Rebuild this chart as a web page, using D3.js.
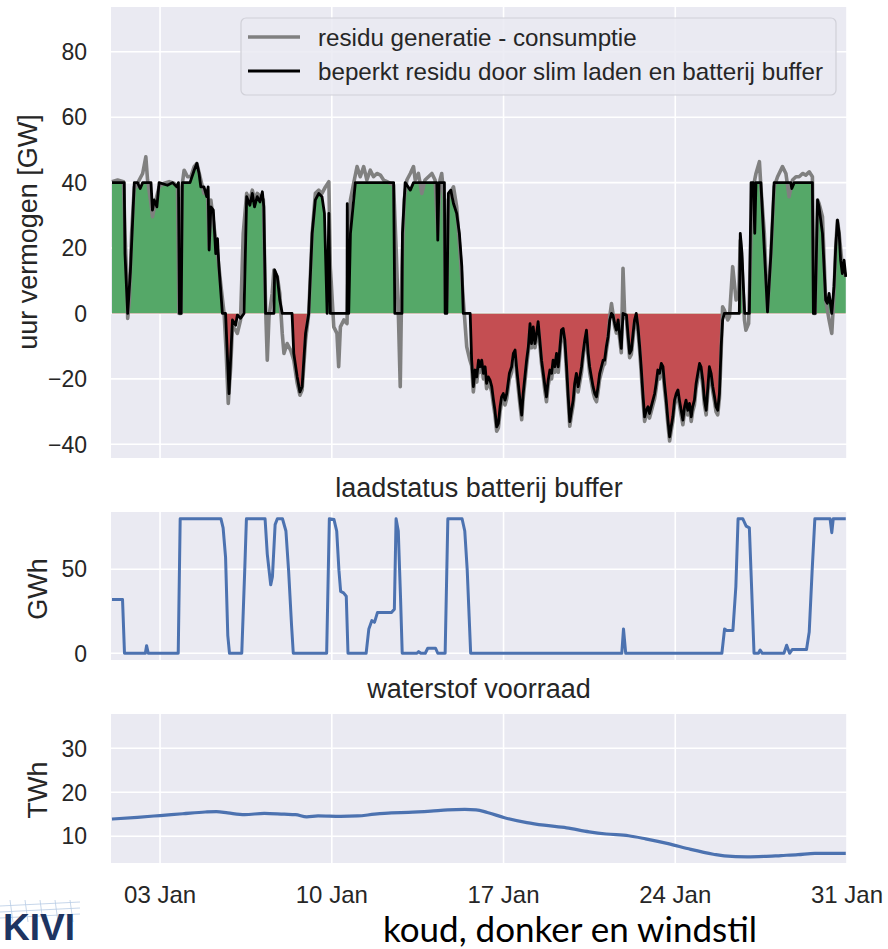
<!DOCTYPE html>
<html lang="nl">
<head>
    <meta charset="UTF-8">
    <title>Residu, batterij buffer en waterstof voorraad</title>
    <script src="https://d3js.org/d3.v7.min.js"></script>
    <style>
        body {
            margin: 0;
            background: #ffffff;
        }

        svg {
            font-family: "Liberation Sans", Arial, sans-serif;
        }

        .panel-bg {
            fill: #eaeaf2;
        }

        .grid line {
            stroke: #ffffff;
            stroke-width: 1.6px;
        }

        .tick-label {
            fill: #262626;
            font-size: 23px;
        }

        .axis-label {
            fill: #262626;
            font-size: 27px;
        }

        .panel-title {
            fill: #262626;
            font-size: 27px;
        }

        .legend-text {
            fill: #262626;
            font-size: 24.2px;
        }

        .line {
            fill: none;
            stroke-linejoin: round;
        }
    </style>
</head>
<body>
    <svg id="chart" width="888" height="949"></svg>

    <script>
        // ---- data (day of January as decimal, value) ----
        // residu generatie - consumptie [GW]
        const residu = [
            [1.04,40.3],[1.27,40.8],[1.51,40.3],[1.57,24.5],[1.65,9.2],[1.68,-1.5],[1.75,4.1],[1.84,24.5],[1.95,38.7],
            [2.02,38.7],[2.15,40.8],[2.29,42.8],[2.42,47.9],[2.49,40.8],[2.63,33.6],[2.69,29.6],[2.83,34.7],[2.96,38.7],
            [3.17,39.8],[3.37,40.3],[3.57,39.8],[3.71,38.7],[3.77,0],[3.85,0],[3.89,38.7],[3.98,43.8],[4.12,41.8],
            [4.25,41.8],[4.39,44.9],[4.50,45.9],[4.66,40.8],[4.79,36.7],[4.93,37.7],[5.00,20.4],[5.07,34.7],[5.20,26.5],
            [5.34,18.3],[5.47,9.2],[5.61,0],[5.69,-11.2],[5.78,-27.5],[5.88,-16.3],[5.95,-4.1],[6.08,-5.1],[6.15,-6.1],
            [6.28,-2],[6.39,24.5],[6.53,36.7],[6.66,34.7],[6.76,37.7],[6.85,34.7],[6.96,36.7],[7.10,35.7],[7.21,34.7],
            [7.28,9.2],[7.31,0],[7.37,-14.3],[7.44,-1],[7.57,6.1],[7.64,13.3],[7.78,11.2],[7.88,6.1],[7.98,-6.1],
            [8.05,-12.2],[8.18,-9.2],[8.32,-11.2],[8.45,-14.3],[8.59,-21.4],[8.70,-25],[8.79,-23.4],[8.93,-8.2],[9.06,0],
            [9.20,24.5],[9.33,36.7],[9.47,37.7],[9.60,36.7],[9.74,38.7],[9.88,40.3],[9.94,14.3],[10.08,-4.1],[10.21,-6.1],
            [10.28,-16.3],[10.35,-4.1],[10.49,-2],[10.62,-3.1],[10.69,24.5],[10.76,34.7],[10.89,39.8],[11.03,44.9],
            [11.16,41.8],[11.30,44.9],[11.43,40.8],[11.57,43.8],[11.70,41.8],[11.84,42.8],[11.98,42.3],[12.11,40.8],
            [12.25,40.3],[12.38,39.8],[12.52,39.2],[12.63,18.3],[12.72,-2],[12.79,-22.4],[12.86,14.3],[12.95,34.7],
            [13.06,40.8],[13.20,42.8],[13.33,44.9],[13.40,40.8],[13.53,42.8],[13.67,36.7],[13.80,40.8],[13.94,41.8],
            [14.08,42.8],[14.21,40.8],[14.32,24.5],[14.41,40.8],[14.48,42.8],[14.58,34.7],[14.63,4.1],[14.69,4.1],
            [14.75,34.7],[14.82,36.7],[14.96,38.7],[15.09,32.6],[15.23,18.3],[15.36,4.1],[15.50,-10.2],[15.63,-14.3],
            [15.70,-16],[15.77,-24],[15.84,-19],[15.91,-21],[15.98,-16],[16.04,-18],[16.11,-16],[16.18,-20],[16.25,-18],
            [16.31,-23],[16.38,-21],[16.45,-22],[16.52,-24],[16.59,-28],[16.65,-31],[16.72,-36],[16.79,-35],[16.86,-30],
            [16.92,-27],[16.99,-26],[17.06,-28],[17.13,-26],[17.24,-20],[17.33,-18],[17.40,-13.5],[17.47,-12.5],
            [17.53,-18],[17.60,-23],[17.67,-28],[17.74,-32.5],[17.80,-26],[17.87,-21],[17.94,-16],[18.01,-11.5],
            [18.08,-4.5],[18.14,-10.5],[18.21,-5.5],[18.28,-10.5],[18.35,-7.5],[18.41,-4],[18.48,-9.5],[18.55,-15.5],
            [18.62,-19.5],[18.69,-24],[18.75,-27],[18.82,-22],[18.89,-19],[18.96,-20],[19.02,-16],[19.09,-18],
            [19.16,-13.5],[19.23,-18],[19.30,-12],[19.36,-6.5],[19.43,-6],[19.50,-9.5],[19.57,-18],[19.63,-26],
            [19.70,-34.5],[19.77,-31],[19.84,-28],[19.90,-23],[19.97,-20],[20.04,-24],[20.11,-21],[20.18,-18],
            [20.24,-13.5],[20.31,-9.5],[20.38,-6.5],[20.45,-13.5],[20.51,-18],[20.58,-21],[20.65,-24],[20.72,-26],
            [20.79,-27],[20.85,-24],[20.92,-20],[20.99,-18],[21.06,-16],[21.12,-15.5],[21.19,-11.5],[21.26,-8],
            [21.33,-1],[21.40,3],[21.46,0],[21.53,-4],[21.60,-6],[21.67,-3],[21.73,-7.5],[21.80,-12],[21.87,13.8],
            [21.94,-1],[22.01,-2],[22.07,-7.5],[22.14,-13.5],[22.21,-12.5],[22.28,-7.5],[22.34,-3],[22.41,-1],
            [22.48,-5.5],[22.55,-11.5],[22.61,-18],[22.68,-26],[22.75,-33],[22.82,-31],[22.89,-30],[22.95,-32],
            [23.02,-30],[23.09,-28],[23.16,-26],[23.22,-23],[23.29,-19],[23.36,-20],[23.43,-17],[23.50,-18],
            [23.56,-23],[23.63,-28],[23.70,-34],[23.77,-39],[23.83,-36],[23.90,-33],[23.97,-28],[24.04,-26],
            [24.11,-25],[24.17,-28],[24.24,-31],[24.31,-34],[24.38,-30],[24.44,-28],[24.51,-31],[24.58,-29],
            [24.65,-33],[24.71,-30],[24.78,-28],[24.85,-23],[24.92,-20],[24.99,-17],[25.05,-18],[25.12,-22],
            [25.19,-28],[25.26,-31],[25.32,-25],[25.39,-18],[25.46,-20],[25.53,-24],[25.60,-27],[25.66,-30],
            [25.73,-31],[25.80,-26],[25.87,-12],[25.93,2],[26.00,1],[26.14,-2],[26.21,-1],[26.34,14.3],[26.48,4.1],
            [26.59,6.1],[26.65,22.4],[26.72,14.3],[26.82,-2],[26.88,-5.1],[26.99,-3.1],[27.09,24.5],[27.18,38.7],
            [27.29,42.8],[27.43,46.4],[27.49,38.7],[27.63,24.5],[27.76,1],[27.90,18.3],[28.03,38.7],[28.17,41.8],
            [28.37,44.9],[28.51,42.8],[28.64,35.7],[28.78,40.8],[28.92,41.8],[29.05,41.8],[29.19,42.8],[29.32,42.3],
            [29.46,43.3],[29.59,41.8],[29.65,0],[29.70,0],[29.80,34.7],[29.86,33.6],[30.00,29.6],[30.13,4.1],
            [30.27,-2],[30.38,-6.1],[30.47,6.1],[30.54,20.4],[30.61,28.5],[30.68,24.5],[30.81,14.3],[30.95,11.2]
        ];

        // beperkt residu door slim laden en batterij buffer [GW]
        const beperktResidu = [
            [1.04,40],[1.54,40],[1.57,18.3],[1.68,0],[1.79,12.7],[1.95,40],[2.08,40],[2.19,38.2],[2.29,40],[2.63,40],
            [2.69,31.6],[2.76,34.7],[2.87,32.6],[2.96,40],[3.30,39.2],[3.51,40],[3.68,38.7],[3.75,40],[3.79,0],[3.86,0],
            [3.91,40],[4.22,40],[4.39,43.8],[4.50,45.9],[4.59,42.8],[4.66,38.7],[4.79,38.7],[4.90,35.7],[4.96,38.7],
            [5.00,19.4],[5.07,32.6],[5.17,31.6],[5.27,18.3],[5.34,22.9],[5.40,14.3],[5.54,0],[5.67,0],[5.81,-24.5],
            [5.95,-2],[6.08,-3.6],[6.15,-0.5],[6.28,-1.5],[6.42,0],[6.53,35.7],[6.66,33.1],[6.76,36.7],[6.85,32.6],
            [6.96,35.7],[7.07,34.1],[7.17,37.2],[7.23,32.6],[7.30,0],[7.64,0],[7.67,13.3],[7.78,11.2],[7.88,4.1],
            [7.98,0],[8.38,0],[8.45,-12.2],[8.59,-19.4],[8.70,-24],[8.79,-22.4],[8.93,-6.1],[9.06,0],[9.20,24.5],
            [9.33,34.7],[9.47,36.7],[9.60,35.7],[9.70,30.6],[9.81,0],[9.88,30.6],[9.94,0],[10.62,0],[10.63,33.6],
            [10.66,0],[10.69,0],[10.76,24.5],[10.96,40],[12.52,40],[12.57,0],[12.86,0],[12.88,24.5],[12.99,40],
            [13.20,37.7],[13.33,40],[14.28,40],[14.32,22.4],[14.37,40],[14.59,40],[14.62,0],[14.69,0],[14.75,36.7],
            [14.85,37.7],[14.96,33.6],[15.09,30.6],[15.20,24.5],[15.30,14.3],[15.36,0],[15.64,0],[15.70,-14.3],
            [15.77,-22.4],[15.84,-17.3],[15.91,-19.4],[15.98,-14.3],[16.04,-16.3],[16.11,-14.3],[16.18,-18.3],
            [16.25,-16.3],[16.31,-21.4],[16.38,-19.4],[16.45,-20.4],[16.52,-22.4],[16.59,-26.5],[16.65,-29.6],
            [16.72,-34.7],[16.79,-33.6],[16.86,-28.5],[16.92,-25.5],[16.99,-24.5],[17.06,-26.5],[17.13,-24.5],
            [17.24,-18.3],[17.33,-16.3],[17.40,-12.2],[17.47,-11.2],[17.53,-16.3],[17.60,-21.4],[17.67,-26.5],
            [17.74,-31.1],[17.80,-24.5],[17.87,-19.4],[17.94,-14.3],[18.01,-10.2],[18.08,-3.1],[18.14,-9.2],
            [18.21,-4.1],[18.28,-9.2],[18.35,-6.1],[18.41,-2.5],[18.48,-8.2],[18.55,-14.3],[18.62,-18.3],
            [18.69,-22.4],[18.75,-25.5],[18.82,-20.4],[18.89,-17.3],[18.96,-18.3],[19.02,-14.3],[19.09,-16.3],
            [19.16,-12.2],[19.23,-16.3],[19.30,-10.2],[19.36,-5.1],[19.43,-4.6],[19.50,-8.2],[19.57,-16.3],
            [19.63,-24.5],[19.70,-33.1],[19.77,-29.6],[19.84,-26.5],[19.90,-21.4],[19.97,-18.3],[20.04,-22.4],
            [20.11,-19.4],[20.18,-16.3],[20.24,-12.2],[20.31,-8.2],[20.38,-5.1],[20.45,-12.2],[20.51,-16.3],
            [20.58,-19.4],[20.65,-22.4],[20.72,-24.5],[20.79,-25.5],[20.85,-22.4],[20.92,-18.3],[20.99,-16.3],
            [21.06,-14.3],[21.12,-14.3],[21.19,-10.2],[21.26,-7.1],[21.33,-2],[21.40,0],[21.46,-0.5],[21.53,-3.1],
            [21.60,-5.1],[21.67,-2],[21.73,-6.1],[21.80,-10.7],[21.87,0],[22.01,-0.5],[22.07,-6.1],[22.14,-12.2],
            [22.21,-11.2],[22.28,-6.1],[22.34,-2],[22.41,0],[22.48,-4.1],[22.55,-10.2],[22.61,-16.3],[22.68,-24.5],
            [22.75,-31.6],[22.82,-29.6],[22.89,-28.5],[22.95,-30.6],[23.02,-28.5],[23.09,-26.5],[23.16,-24.5],
            [23.22,-21.4],[23.29,-17.3],[23.36,-18.3],[23.43,-15.3],[23.50,-16.3],[23.56,-21.4],[23.63,-26.5],
            [23.70,-32.6],[23.77,-37.7],[23.83,-34.7],[23.90,-31.6],[23.97,-26.5],[24.04,-24.5],[24.11,-23.4],
            [24.17,-26.5],[24.24,-29.6],[24.31,-32.6],[24.38,-28.5],[24.44,-26.5],[24.51,-29.6],[24.58,-27.5],
            [24.65,-31.6],[24.71,-28.5],[24.78,-26.5],[24.85,-21.4],[24.92,-18.3],[24.99,-15.3],[25.05,-16.3],
            [25.12,-20.4],[25.19,-26.5],[25.26,-29.6],[25.32,-23.4],[25.39,-16.3],[25.46,-18.3],[25.53,-22.4],
            [25.60,-25.5],[25.66,-28.5],[25.73,-29.6],[25.80,-24.5],[25.87,-10.2],[25.93,-2],[26.00,0],[26.61,0],
            [26.65,24.5],[26.72,18.3],[26.77,9.2],[26.83,0],[27.02,0],[27.09,40],[27.18,40],[27.24,24.5],[27.29,40],
            [27.49,40],[27.76,0.5],[27.90,18.3],[28.03,40],[28.71,40],[28.75,38.2],[28.85,40],[29.59,40],[29.63,0],
            [29.70,0],[29.80,34.7],[29.86,32.6],[30.00,24.5],[30.13,4.1],[30.20,3.1],[30.27,6.1],[30.38,0],
            [30.47,8.2],[30.54,20.4],[30.61,28.5],[30.68,24.5],[30.74,16.3],[30.81,12.2],[30.88,16.3],[30.95,11.2]
        ];

        // laadstatus batterij buffer [GWh]
        const batterij = [
            [1.04,32],[1.47,32],[1.55,0],[2.40,0],[2.45,4.5],[2.52,0],[3.74,0],[3.82,80],[5.48,80],[5.57,74.6],
            [5.67,57],[5.76,10.7],[5.83,0],[6.33,0],[6.45,49],[6.52,80],[7.28,80],[7.37,59],[7.51,40.7],[7.58,45.5],
            [7.69,76.5],[7.78,80],[7.99,80],[8.13,72.7],[8.24,49],[8.36,16.5],[8.43,0],[9.79,0],[9.90,80],
            [10.09,79.5],[10.20,72.7],[10.29,49.4],[10.36,36.8],[10.48,35.9],[10.59,33.9],[10.66,0],[11.40,0],
            [11.51,14.5],[11.63,19.4],[11.74,18.4],[11.86,24.2],[12.43,24.2],[12.55,26.2],[12.62,80],[12.71,72.7],
            [12.80,33.9],[12.87,0],[13.47,0],[13.54,1],[13.63,0],[13.81,0],[13.91,3],[14.23,3],[14.32,0],
            [14.62,0],[14.73,80],[15.31,80],[15.42,72.7],[15.52,49.4],[15.66,0],[21.82,0],[21.89,14.5],[21.98,0],
            [25.90,0],[26.01,14.5],[26.10,13.6],[26.35,13.6],[26.47,39.7],[26.56,80],[26.75,80],[26.89,75.6],
            [27.02,74.6],[27.11,39.7],[27.21,0],[27.39,0],[27.46,1.9],[27.55,0],[28.43,0],[28.54,4.8],[28.66,0],
            [28.77,2.3],[29.35,2.3],[29.46,12.6],[29.58,49.4],[29.69,80],[30.31,80],[30.38,71.7],[30.44,80],
            [30.95,80]
        ];

        // waterstof voorraad [TWh]
        const waterstof = [
            [1.04,13.9],[2.08,14.3],[3.00,14.7],[3.92,15.1],[4.84,15.5],[5.30,15.6],[5.76,15.3],[6.45,14.9],
            [7.25,15.2],[8.06,15.0],[8.52,14.9],[8.98,14.4],[9.44,14.6],[10.36,14.5],[11.05,14.6],[11.74,15.0],
            [12.43,15.3],[13.12,15.4],[14.04,15.7],[14.73,16.0],[15.42,16.1],[15.88,16.0],[16.34,15.4],[17.04,14.2],
            [17.95,13.1],[18.65,12.5],[19.57,11.9],[20.49,11.0],[21.19,10.5],[22.10,10.1],[22.79,9.4],[23.71,8.3],
            [24.63,7.0],[25.55,5.9],[26.00,5.5],[26.93,5.3],[27.62,5.4],[28.31,5.6],[29.00,5.8],[29.69,6.1],
            [30.38,6.1],[30.95,6.1]
        ];

        const dateTickDays = [3, 10, 17, 24, 31];
        const residuTicks = [-40, -20, 0, 20, 40, 60, 80];
        const batterijTicks = [0, 50];
        const waterstofTicks = [10, 20, 30];
        const legendLabels = ["residu generatie - consumptie", "beperkt residu door slim laden en batterij buffer"];

        // ---- layout ----
        const svg = d3.select("#chart");
        const left = 111, right = 847;

        const dayToDate = d => new Date(Date.UTC(2023, 0, 1) + (d - 1) * 864e5);
        const x = d3.scaleUtc()
            .domain([dayToDate(1), dayToDate(31)])
            .range([left, right]);
        const dateTicks = dateTickDays.map(dayToDate);

        // Build one panel: background, grid, y tick labels, clip
        function makePanel(id, top, bottom, yDomain, yTicks) {
            const y = d3.scaleLinear().domain(yDomain).range([bottom, top]);
            const g = svg.append("g").attr("id", id);

            g.append("rect")
                .attr("class", "panel-bg")
                .attr("x", left).attr("y", top)
                .attr("width", right - left).attr("height", bottom - top);

            g.append("clipPath").attr("id", id + "-clip")
                .append("rect")
                .attr("x", left).attr("y", top)
                .attr("width", right - left).attr("height", bottom - top);

            const grid = g.append("g").attr("class", "grid");
            grid.selectAll(".gy").data(yTicks).join("line")
                .attr("x1", left).attr("x2", right)
                .attr("y1", d => y(d)).attr("y2", d => y(d));
            grid.selectAll(".gx").data(dateTicks).join("line")
                .attr("x1", d => x(d)).attr("x2", d => x(d))
                .attr("y1", top).attr("y2", bottom);

            g.selectAll(".ylab").data(yTicks).join("text")
                .attr("class", "tick-label")
                .attr("x", left - 24)
                .attr("y", d => y(d))
                .attr("dy", "0.36em")
                .attr("text-anchor", "end")
                .text(d3.format("d"));

            const plot = g.append("g").attr("clip-path", `url(#${id}-clip)`);
            return { y, g, plot, top, bottom };
        }

        function yLabel(text, cx, cy) {
            svg.append("text")
                .attr("class", "axis-label")
                .attr("transform", `translate(${cx},${cy}) rotate(-90)`)
                .attr("text-anchor", "middle")
                .attr("dy", "0.36em")
                .text(text);
        }

        // ---- top panel: residu ----
        const p1 = makePanel("residu", 7, 458, [-44.2, 93.7], residuTicks);
        const y1 = p1.y;

        const area = d3.area()
            .x(d => x(dayToDate(d[0])))
            .y0(y1(0))
            .y1(d => y1(d[1]));

        p1.g.append("clipPath").attr("id", "above-zero")
            .append("rect").attr("x", left).attr("y", p1.top)
            .attr("width", right - left).attr("height", y1(0) - p1.top);
        p1.g.append("clipPath").attr("id", "below-zero")
            .append("rect").attr("x", left).attr("y", y1(0))
            .attr("width", right - left).attr("height", p1.bottom - y1(0));

        p1.plot.append("path")
            .datum(beperktResidu)
            .attr("clip-path", "url(#above-zero)")
            .attr("fill", "#55a868")
            .attr("d", area);
        p1.plot.append("path")
            .datum(beperktResidu)
            .attr("clip-path", "url(#below-zero)")
            .attr("fill", "#c44e52")
            .attr("d", area);

        const line1 = d3.line()
            .x(d => x(dayToDate(d[0])))
            .y(d => y1(d[1]));

        p1.plot.append("path")
            .datum(residu)
            .attr("class", "line")
            .attr("stroke", "#808080")
            .attr("stroke-width", 3.6)
            .attr("d", line1);
        p1.plot.append("path")
            .datum(beperktResidu)
            .attr("class", "line")
            .attr("stroke", "#000000")
            .attr("stroke-width", 2.8)
            .attr("d", line1);

        // legend
        const legend = p1.g.append("g").attr("transform", "translate(241,18)");
        legend.append("rect")
            .attr("width", 595).attr("height", 77)
            .attr("rx", 5)
            .attr("fill", "#eaeaf2").attr("fill-opacity", 0.85)
            .attr("stroke", "#d0d0d8").attr("stroke-width", 1.2);
        const legendRows = legend.selectAll(".row").data(legendLabels).join("g")
            .attr("transform", (d, i) => `translate(0,${19 + i * 34})`);
        legendRows.append("line")
            .attr("x1", 7).attr("x2", 59)
            .attr("stroke", (d, i) => i === 0 ? "#808080" : "#000000")
            .attr("stroke-width", (d, i) => i === 0 ? 3.6 : 2.8);
        legendRows.append("text")
            .attr("class", "legend-text")
            .attr("x", 77)
            .attr("dy", "0.36em")
            .text(d => d);

        yLabel("uur vermogen [GW]", 27, 232);

        // ---- middle panel: batterij ----
        const p2 = makePanel("batterij", 512, 660, [-4, 84], batterijTicks);
        p2.plot.append("path")
            .datum(batterij)
            .attr("class", "line")
            .attr("stroke", "#4c72b0")
            .attr("stroke-width", 3)
            .attr("d", d3.line().x(d => x(dayToDate(d[0]))).y(d => p2.y(d[1])));
        svg.append("text")
            .attr("class", "panel-title")
            .attr("x", (left + right) / 2).attr("y", 497)
            .attr("text-anchor", "middle")
            .text("laadstatus batterij buffer");
        yLabel("GWh", 37, 589);

        // ---- bottom panel: waterstof ----
        const p3 = makePanel("waterstof", 714, 863, [3.9, 37.8], waterstofTicks);
        p3.plot.append("path")
            .datum(waterstof)
            .attr("class", "line")
            .attr("stroke", "#4c72b0")
            .attr("stroke-width", 3.2)
            .attr("d", d3.line().curve(d3.curveMonotoneX).x(d => x(dayToDate(d[0]))).y(d => p3.y(d[1])));
        svg.append("text")
            .attr("class", "panel-title")
            .attr("x", (left + right) / 2).attr("y", 698)
            .attr("text-anchor", "middle")
            .text("waterstof voorraad");
        yLabel("TWh", 37, 790);

        // x tick labels (shared axis)
        svg.selectAll(".xlab").data(dateTicks).join("text")
            .attr("class", "tick-label")
            .attr("x", d => x(d))
            .attr("y", 903)
            .attr("text-anchor", "middle")
            .style("font-size", "24px")
            .text(d3.utcFormat("%d %b"));

        // slide caption and logo
        svg.append("text")
            .attr("x", 570).attr("y", 942)
            .attr("text-anchor", "middle")
            .style("font-family", "Lato, 'Open Sans', sans-serif")
            .style("font-size", "35px")
            .attr("fill", "#000000")
            .text("koud, donker en windstil");

        const logo = svg.append("g");
        [906, 912, 918].forEach(yy => logo.append("line")
            .attr("x1", 0).attr("x2", 80).attr("y1", yy).attr("y2", yy - 4)
            .attr("stroke", "#b8cce4").attr("stroke-width", 0.8));
        [10, 25, 40, 55, 70].forEach(xx => logo.append("line")
            .attr("x1", xx).attr("x2", xx + 3).attr("y1", 900).attr("y2", 922)
            .attr("stroke", "#b8cce4").attr("stroke-width", 0.8));
        logo.append("text")
            .attr("x", 3).attr("y", 940)
            .style("font-family", "'Liberation Sans Narrow', 'Liberation Sans', sans-serif")
            .style("font-weight", "bold")
            .style("font-size", "37px")
            .attr("fill", "#1d3461")
            .text("KIVI");
    </script>
</body>
</html>
